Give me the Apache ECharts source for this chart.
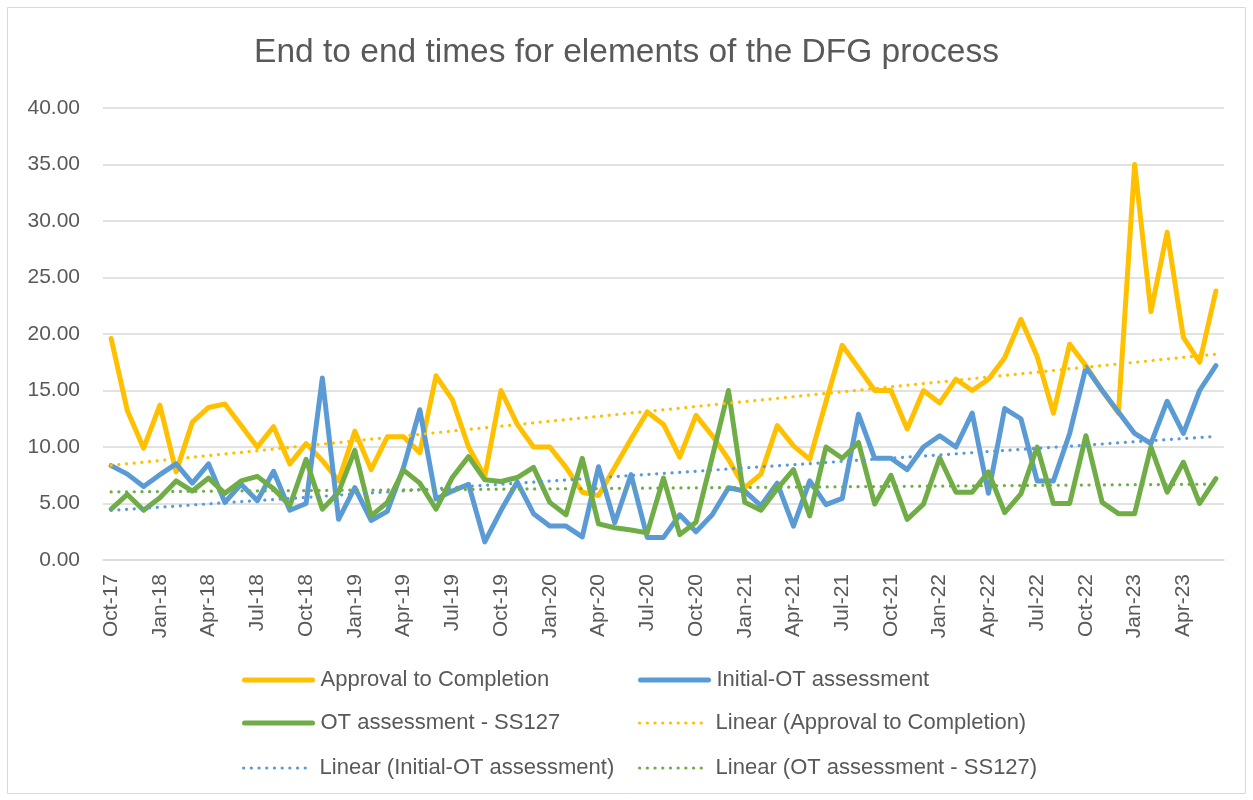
<!DOCTYPE html>
<html>
<head>
<meta charset="utf-8">
<script src="https://cdn.jsdelivr.net/npm/echarts@6/dist/echarts.min.js"></script>
<style>
html,body{margin:0;padding:0;background:#fff;}
#chart{width:1253px;height:800px;}
</style>
</head>
<body>
<div id="chart"></div>
<script>
const categories = [
 'Oct-17','Nov-17','Dec-17','Jan-18','Feb-18','Mar-18','Apr-18','May-18','Jun-18','Jul-18','Aug-18','Sep-18',
 'Oct-18','Nov-18','Dec-18','Jan-19','Feb-19','Mar-19','Apr-19','May-19','Jun-19','Jul-19','Aug-19','Sep-19',
 'Oct-19','Nov-19','Dec-19','Jan-20','Feb-20','Mar-20','Apr-20','May-20','Jun-20','Jul-20','Aug-20','Sep-20',
 'Oct-20','Nov-20','Dec-20','Jan-21','Feb-21','Mar-21','Apr-21','May-21','Jun-21','Jul-21','Aug-21','Sep-21',
 'Oct-21','Nov-21','Dec-21','Jan-22','Feb-22','Mar-22','Apr-22','May-22','Jun-22','Jul-22','Aug-22','Sep-22',
 'Oct-22','Nov-22','Dec-22','Jan-23','Feb-23','Mar-23','Apr-23','May-23','Jun-23'
];
const approvalToCompletion = [
 19.6,13.2,9.9,13.7,7.8,12.2,13.5,13.8,11.9,10.0,11.8,8.5,
 10.3,8.8,7.0,11.4,8.0,10.9,10.9,9.5,16.3,14.2,10.0,7.4,
 15.0,12.0,10.0,10.0,8.2,6.0,5.7,8.2,10.7,13.1,12.0,9.1,
 12.8,11.0,8.9,6.4,7.6,11.9,10.1,8.9,14.0,19.0,17.0,15.0,
 15.0,11.6,15.0,13.9,16.0,15.0,16.0,17.9,21.3,18.0,13.0,19.1,
 17.2,15.0,13.0,35.0,22.0,29.0,19.7,17.5,23.8
];
const initialOTAssessment = [
 8.35,7.6,6.5,7.55,8.5,6.8,8.5,5.1,6.7,5.25,7.85,4.4,
 5.0,16.1,3.6,6.4,3.5,4.3,8.2,13.3,5.4,6.1,6.7,1.6,
 4.4,6.9,4.1,3.0,3.0,2.05,8.25,3.3,7.55,2.0,2.0,4.0,
 2.5,4.0,6.4,6.1,4.8,6.8,3.0,7.0,4.9,5.45,12.9,9.0,
 9.0,8.0,10.0,11.0,10.0,13.0,5.9,13.4,12.5,7.0,7.0,11.2,
 17.05,15.0,13.1,11.2,10.3,14.05,11.2,15.0,17.2
];
const otAssessmentSS127 = [
 4.5,5.8,4.4,5.5,7.0,6.1,7.25,5.9,7.0,7.4,6.3,4.8,
 8.9,4.5,6.0,9.7,3.9,5.1,7.95,6.8,4.5,7.3,9.15,7.1,
 6.95,7.3,8.2,5.1,4.0,9.0,3.2,2.85,2.65,2.4,7.25,2.25,
 3.35,9.1,15.0,5.1,4.4,6.3,8.0,3.9,10.0,9.0,10.4,4.95,
 7.5,3.6,4.95,9.05,6.0,6.0,7.8,4.2,5.85,10.0,5.0,5.0,
 11.0,5.1,4.1,4.1,10.0,6.0,8.65,5.0,7.2
];
const yTicks = { min: 0, max: 40, interval: 5 };

const seriesNames = ['Approval to Completion','Initial-OT assessment','OT assessment - SS127'];
const seriesColors = ['#FFC000','#5B9BD5','#70AD47'];
const seriesData = [approvalToCompletion, initialOTAssessment, otAssessmentSS127];

function linearTrend(vals) {
  const n = vals.length;
  let sx = 0, sy = 0, sxx = 0, sxy = 0;
  for (let i = 0; i < n; i++) { const x = i + 1; sx += x; sy += vals[i]; sxx += x * x; sxy += x * vals[i]; }
  const b = (n * sxy - sx * sy) / (n * sxx - sx * sx);
  const a = (sy - b * sx) / n;
  return vals.map((_, i) => +(a + b * (i + 1)).toFixed(4));
}

const font = 'Liberation Sans, Arial, sans-serif';
const textColor = '#595959';
const solidStyle = { width: 5, join: 'round', cap: 'round' };
const dotStyle = { width: 3.2, type: [0.1, 7.6], cap: 'round' };

const series = [];
seriesNames.forEach((name, k) => {
  series.push({
    name, type: 'line', data: seriesData[k], symbol: 'none', smooth: false,
    lineStyle: Object.assign({ color: seriesColors[k] }, solidStyle),
    itemStyle: { color: seriesColors[k] },
    emphasis: { disabled: true }
  });
});
seriesNames.forEach((name, k) => {
  series.push({
    name: 'Linear (' + name + ')', type: 'line', data: linearTrend(seriesData[k]), symbol: 'none',
    lineStyle: Object.assign({ color: seriesColors[k] }, dotStyle),
    itemStyle: { color: seriesColors[k] },
    emphasis: { disabled: true }
  });
});

const legendOrder = [
  ['Approval to Completion', 242, 669, seriesColors[0], solidStyle],
  ['Initial-OT assessment', 638, 669, seriesColors[1], solidStyle],
  ['OT assessment - SS127', 242, 712, seriesColors[2], solidStyle],
  ['Linear (Approval to Completion)', 638, 712, seriesColors[0], dotStyle],
  ['Linear (Initial-OT assessment)', 242, 757, seriesColors[1], dotStyle],
  ['Linear (OT assessment - SS127)', 638, 757, seriesColors[2], dotStyle]
];
const legends = legendOrder.map(([name, l, t, c, ls]) => ({
  data: [name], left: l, top: t, padding: 0, itemWidth: 68, itemHeight: 24,
  selectedMode: false,
  itemStyle: { opacity: 0 },
  lineStyle: Object.assign({ color: c, opacity: 1 }, ls),
  textStyle: { fontFamily: font, fontSize: 22, color: textColor, padding: [0, 0, 0, 3] }
}));

const chart = echarts.init(document.getElementById('chart'), null, { renderer: 'canvas' });
chart.setOption({
  animation: false,
  backgroundColor: '#ffffff',
  title: {
    text: 'End to end times for elements of the DFG process',
    left: 'center', top: 31,
    textStyle: { fontFamily: font, fontSize: 33.5, fontWeight: 'normal', color: textColor }
  },
  legend: legends,
  grid: { left: 103, right: 29, top: 108, bottom: 240, containLabel: false },
  xAxis: {
    type: 'category', data: categories, boundaryGap: true,
    axisLine: { lineStyle: { color: '#d9d9d9', width: 1.5 } },
    axisTick: { interval: 2, length: 6, lineStyle: { color: '#d9d9d9', width: 1.5 } },
    axisLabel: { interval: 2, rotate: 90, margin: 14, fontFamily: font, fontSize: 21, color: textColor }
  },
  yAxis: {
    type: 'value', min: yTicks.min, max: yTicks.max, interval: yTicks.interval,
    axisLine: { show: false }, axisTick: { show: false },
    splitLine: { lineStyle: { color: '#d9d9d9', width: 1.5 } },
    axisLabel: { formatter: v => v.toFixed(2), margin: 23, fontFamily: font, fontSize: 21, color: textColor }
  },
  graphic: [{
    type: 'rect', shape: { x: 7.5, y: 7.5, width: 1238, height: 786 },
    style: { fill: 'none', stroke: '#d9d9d9', lineWidth: 1 }, silent: true, z: -1
  }],
  series
});
</script>
</body>
</html>
